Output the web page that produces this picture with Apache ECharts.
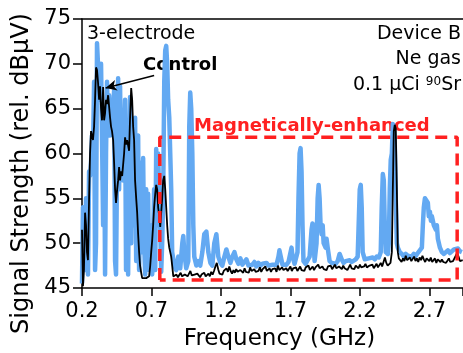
<!DOCTYPE html>
<html>
<head>
<meta charset="utf-8">
<script src="https://cdn.jsdelivr.net/npm/echarts@6/dist/echarts.min.js"></script>
<style>
  html, body { margin: 0; padding: 0; background: #fff; }
  #chart { width: 463px; height: 353px; }
</style>
</head>
<body>
<div id="chart"></div>
<script>
// 磁增强 vs 对照：3 电极器件 B 的信号强度频谱 (Ne 气, 0.1 μCi 90Sr)
// 蓝色 = 磁增强, 黑色 = 对照

// ---------- 数据 ----------
const magFreq = [
  0.200, 0.207, 0.214, 0.222, 0.229, 0.236, 0.243, 0.251, 0.258, 0.265,
  0.272, 0.279, 0.287, 0.294, 0.301, 0.308, 0.315, 0.323, 0.330, 0.337,
  0.344, 0.352, 0.359, 0.366, 0.373, 0.380, 0.388, 0.395, 0.402, 0.409,
  0.416, 0.424, 0.431, 0.438, 0.445, 0.453, 0.460, 0.467, 0.474, 0.481,
  0.489, 0.496, 0.503, 0.510, 0.517, 0.525, 0.532, 0.539, 0.546, 0.554,
  0.561, 0.568, 0.575, 0.582, 0.590, 0.597, 0.604, 0.611, 0.618, 0.626,
  0.633, 0.640, 0.647, 0.655, 0.662, 0.669, 0.676, 0.683, 0.691, 0.698,
  0.705, 0.712, 0.719, 0.727, 0.734, 0.741, 0.748, 0.756, 0.763, 0.770,
  0.777, 0.784, 0.792, 0.799, 0.806, 0.813, 0.820, 0.828, 0.835, 0.842,
  0.849, 0.864, 0.878, 0.893, 0.907, 0.922, 0.929, 0.936, 0.950, 0.965,
  0.972, 0.979, 0.986, 0.994, 1.001, 1.008, 1.023, 1.037, 1.051, 1.066,
  1.080, 1.095, 1.109, 1.124, 1.138, 1.152, 1.167, 1.181, 1.196, 1.210,
  1.225, 1.239, 1.253, 1.268, 1.282, 1.297, 1.311, 1.326, 1.340, 1.354,
  1.369, 1.383, 1.398, 1.412, 1.427, 1.441, 1.455, 1.470, 1.484, 1.499,
  1.513, 1.528, 1.542, 1.556, 1.571, 1.585, 1.600, 1.614, 1.621, 1.629,
  1.643, 1.657, 1.672, 1.686, 1.701, 1.708, 1.715, 1.730, 1.744, 1.751,
  1.758, 1.766, 1.773, 1.780, 1.787, 1.794, 1.809, 1.823, 1.838, 1.852,
  1.859, 1.867, 1.874, 1.888, 1.896, 1.903, 1.910, 1.917, 1.924, 1.932,
  1.939, 1.953, 1.960, 1.968, 1.982, 1.997, 2.011, 2.025, 2.040, 2.054,
  2.062, 2.069, 2.083, 2.098, 2.112, 2.126, 2.141, 2.155, 2.170, 2.184,
  2.191, 2.199, 2.206, 2.213, 2.220, 2.235, 2.249, 2.264, 2.278, 2.292,
  2.307, 2.321, 2.336, 2.350, 2.357, 2.365, 2.372, 2.379, 2.386, 2.401,
  2.408, 2.415, 2.422, 2.430, 2.437, 2.444, 2.451, 2.458, 2.466, 2.473,
  2.487, 2.502, 2.516, 2.530, 2.545, 2.559, 2.574, 2.588, 2.603, 2.617,
  2.631, 2.646, 2.653, 2.660, 2.668, 2.682, 2.689, 2.696, 2.704, 2.711,
  2.718, 2.732, 2.747, 2.754, 2.761, 2.776, 2.790, 2.805, 2.819, 2.833,
  2.848, 2.862, 2.877, 2.891, 2.906, 2.920, 2.934
];
const magSignal = [
  45.5, 54, 50, 47, 55, 53, 46.5, 58, 57.5, 59,
  62, 60, 68, 47, 50, 72.3, 70, 66, 68, 70,
  62, 52, 64, 46.5, 60, 68, 62, 66.5, 62, 64,
  63, 65, 67, 48, 46.5, 60, 68.4, 56, 67.5, 58,
  60, 57, 62, 66, 47, 55, 46.5, 60, 66.3, 50,
  62, 52, 58, 64, 48, 61, 62, 47, 54, 59,
  49, 59.5, 50, 46.5, 56, 48, 55.5, 47, 52, 51,
  46.5, 50, 56, 47, 60.5, 52, 60, 55, 52, 46.8,
  50, 55, 68, 71.5, 72, 70, 66, 64, 60, 56,
  49, 47.5, 47, 48.5, 47.2, 50, 50.8, 49, 47.2, 48,
  63, 66.8, 65, 60, 52, 48.5, 47.5, 48, 47.5, 49,
  51, 51.3, 49, 47.8, 47.5, 50, 51, 48.5, 47.8, 47.5,
  48.5, 49.3, 48.5, 47.8, 48.5, 49, 48.2, 47.7, 48.3, 47.6,
  47.9, 48.2, 47.5, 47.7, 47.6, 47.9, 47.4, 47.8, 47.5, 47.7,
  47.5, 47.8, 47.5, 47.7, 47.6, 47.8, 47.6, 48.5, 49.2, 48.6,
  47.6, 47.8, 47.6, 47.9, 49, 49.5, 48.5, 47.7, 47.8, 49,
  55, 60, 60.6, 58, 52, 48, 47.7, 47.9, 48.5, 51.5,
  52.2, 50, 48, 50, 55, 56.5, 55, 52, 51, 52,
  50, 49.5, 50.5, 49.5, 48, 47.8, 47.9, 47.7, 48, 48.8,
  49, 48.2, 47.8, 48, 47.9, 48.1, 47.9, 48, 48.2, 48.5,
  52, 56, 56.5, 54, 49, 48.2, 48, 48.3, 48.2, 48.4,
  48.2, 48.5, 48.4, 49, 54, 57.7, 57, 52, 49, 48.8,
  50, 56, 59.3, 60, 63.3, 63, 61, 55, 50, 49.5,
  49, 48.8, 48.5, 48.8, 48.6, 48.7, 48.5, 48.8, 48.6, 48.9,
  49, 49.5, 52, 54, 55, 55.2, 54.5, 53, 53.5, 52.5,
  53, 52, 51.5, 52, 50.5, 49.5, 49, 48.8, 49, 49.2,
  48.9, 49.1, 49.3, 49.2, 49.4, 49.1, 49
];

const ctrlFreq = [
  0.200, 0.207, 0.214, 0.222, 0.229, 0.236, 0.243, 0.251, 0.258, 0.265,
  0.272, 0.279, 0.287, 0.294, 0.301, 0.308, 0.315, 0.323, 0.330, 0.337,
  0.344, 0.352, 0.359, 0.366, 0.373, 0.380, 0.388, 0.395, 0.402, 0.409,
  0.416, 0.424, 0.431, 0.438, 0.445, 0.453, 0.460, 0.467, 0.474, 0.481,
  0.489, 0.496, 0.503, 0.510, 0.517, 0.525, 0.532, 0.539, 0.546, 0.554,
  0.561, 0.568, 0.575, 0.582, 0.590, 0.597, 0.604, 0.611, 0.618, 0.626,
  0.633, 0.647, 0.662, 0.676, 0.683, 0.691, 0.698, 0.705, 0.712, 0.719,
  0.727, 0.734, 0.741, 0.748, 0.756, 0.763, 0.770, 0.777, 0.784, 0.792,
  0.799, 0.806, 0.813, 0.820, 0.828, 0.835, 0.842, 0.849, 0.857,
  0.87, 0.88, 0.89, 0.90, 0.91, 0.92, 0.93, 0.94, 0.95, 0.96,
  0.97, 0.98, 0.99, 1.00, 1.01, 1.02, 1.03, 1.04, 1.05, 1.06,
  1.07, 1.08, 1.09, 1.10, 1.11, 1.12, 1.13, 1.14, 1.15, 1.16,
  1.17, 1.18, 1.19, 1.20, 1.21, 1.22, 1.23, 1.24, 1.25, 1.26,
  1.27, 1.28, 1.29, 1.30, 1.31, 1.32, 1.33, 1.34, 1.35, 1.36,
  1.37, 1.38, 1.39, 1.40, 1.41, 1.42, 1.43, 1.44, 1.45, 1.46,
  1.47, 1.48, 1.49, 1.50, 1.51, 1.52, 1.53, 1.54, 1.55, 1.56,
  1.57, 1.58, 1.59, 1.60, 1.61, 1.62, 1.63, 1.64, 1.65, 1.66,
  1.67, 1.68, 1.69, 1.70, 1.71, 1.72, 1.73, 1.74, 1.75, 1.76,
  1.77, 1.78, 1.79, 1.80, 1.81, 1.82, 1.83, 1.84, 1.85, 1.86,
  1.87, 1.88, 1.89, 1.90, 1.91, 1.92, 1.93, 1.94, 1.95, 1.96,
  1.97, 1.98, 1.99, 2.00, 2.01, 2.02, 2.03, 2.04, 2.05, 2.06,
  2.07, 2.08, 2.09, 2.10, 2.11, 2.12, 2.13, 2.14, 2.15, 2.16,
  2.17, 2.18, 2.19, 2.20, 2.21, 2.22, 2.23, 2.24, 2.25, 2.26,
  2.27, 2.28, 2.29, 2.30, 2.31, 2.32, 2.33, 2.34, 2.35, 2.36,
  2.37, 2.38, 2.39, 2.40, 2.41,
  2.420, 2.430, 2.437, 2.444, 2.451, 2.458, 2.466, 2.473, 2.480,
  2.49, 2.50, 2.51, 2.52, 2.53, 2.54, 2.55, 2.56, 2.57, 2.58,
  2.59, 2.60, 2.61, 2.62, 2.63, 2.64, 2.65, 2.66, 2.67, 2.68,
  2.69, 2.70, 2.71, 2.72, 2.73, 2.74, 2.75, 2.76, 2.77, 2.78,
  2.79, 2.80, 2.81, 2.82, 2.83, 2.84, 2.85, 2.86, 2.87, 2.88,
  2.89, 2.90, 2.91, 2.92, 2.93, 2.94
];
const ctrlSignal = [
  51.5, 45.2, 47, 53.4, 52, 49, 48.1, 55, 60, 62.5,
  62, 61.5, 63, 66, 69.6, 69.3, 68, 66, 67.5, 65,
  63.7, 67.4, 63.7, 64.5, 66, 65.5, 66.5, 66.3, 64, 63,
  62.5, 61.5, 59, 56, 54.5, 56, 57, 58.5, 57, 58,
  57.5, 57.4, 60, 61.8, 61, 61.5, 61.6, 60.3, 64, 67.3,
  66, 63, 61.5, 57, 55, 53.4, 51, 49, 47.5, 46.7,
  46.1, 46, 46.1, 46, 46.3, 47.5, 49, 50.3, 52, 54,
  55.5, 56.5, 56, 54, 53, 51.8, 52, 55, 57, 57.5,
  56, 54, 52, 50.5, 49.5, 49, 48.5, 47.5, 46.3,
  46.3, 46.5, 46.2, 46.4, 46.7, 46.3, 46.2, 46.5, 46.4, 46.3,
  46.6, 46.9, 46.4, 46.2, 46.5, 46.3, 46.6, 46.4, 46.2, 46.5,
  46.4, 46.7, 46.3, 46.5, 46.6, 46.3, 46.8, 46.5, 46.9, 47.4,
  47.8, 47.1, 46.6, 46.8, 46.5, 46.9, 46.7, 47.2, 46.8, 47.4,
  46.9, 46.6, 47.0, 46.7, 47.1, 46.8, 46.6, 47.0, 46.9, 46.7,
  47.2, 46.8, 47.0, 46.7, 47.3, 46.9, 46.8, 47.1, 46.8, 47.0,
  46.9, 47.3, 46.8, 47.1, 46.9, 47.4, 46.9, 47.0, 47.2, 46.8,
  47.1, 46.9, 47.2, 46.8, 47.5, 47.0, 46.9, 47.3, 47.0, 46.9,
  47.2, 46.9, 47.1, 47.4, 46.9, 47.2, 47.0, 47.3, 46.9, 47.1,
  47.4, 47.0, 47.2, 46.9, 47.3, 47.1, 47.5, 47.0, 47.2, 47.4,
  47.0, 47.3, 47.1, 47.6, 47.2, 47.0, 47.4, 47.1, 47.3, 47.0,
  47.4, 47.2, 47.5, 47.1, 47.3, 47.6, 47.2, 47.0, 47.4, 47.3,
  47.1, 47.5, 47.2, 47.4, 47.0, 47.3, 47.6, 47.2, 47.4, 47.1,
  47.5, 47.3, 47.2, 47.6, 47.3, 47.1, 47.4, 47.7, 47.3, 47.2,
  47.5, 47.3, 47.6, 47.2, 47.4, 47.7, 47.3, 47.5, 47.8, 47.4,
  47.6, 48.4, 47.8, 47.5, 47.7,
  47.8, 49, 56, 62.5, 63.2, 62.8, 56, 49, 48.3,
  48.5, 47.9, 48.3, 48.0, 48.6, 48.1, 47.9, 48.4, 48.0, 48.2,
  48.5, 48.0, 48.3, 47.9, 48.4, 48.1, 48.6, 48.2, 47.9, 48.3,
  48.2, 48.0, 48.4, 47.9, 48.1, 48.3, 47.8, 48.2, 48.0, 47.9,
  48.2, 47.9, 48.1, 47.8, 48.0, 48.3, 47.9, 48.1, 48.0, 47.8,
  48.6, 48.9, 48.5, 48.0, 48.2, 48.1
];

// 虚线框（磁增强区域）与 "Control" 指示箭头
const boxFreq = [0.76, 2.90];
const boxLevel = [45.9, 61.8];
const arrowFrom = [0.719, 68.7];
const arrowTo = [0.37, 67.3];

// 轴范围（GHz / dBμV）
const freqRange = [0.2, 2.942];
const levelRange = [45, 75];

// ---------- 绘制 ----------
const FONT = 'DejaVu Sans';
const X0 = freqRange[0]; // 横轴从 0.2 GHz 起刻度，数据平移后让刻度落在 0.2, 0.7, ...
const shift = (f, v) => [+(f - X0).toFixed(4), v];

const chart = echarts.init(document.getElementById('chart'), null, { renderer: 'canvas' });

const boxData = [
  shift(boxFreq[0], boxLevel[0]), shift(boxFreq[0], boxLevel[1]),
  shift(boxFreq[1], boxLevel[1]), shift(boxFreq[1], boxLevel[0]),
  shift(boxFreq[0], boxLevel[0]),
];

chart.setOption({
  animation: false,
  backgroundColor: '#fff',
  grid: { left: 82, right: 0, top: 19, bottom: 65, containLabel: false, outerBoundsMode: 'none' },
  xAxis: [{
    type: 'value', min: 0, max: +(freqRange[1] - X0).toFixed(3), interval: 0.5,
    name: 'Frequency (GHz)', nameLocation: 'middle', nameGap: 40,
    nameTextStyle: { color: '#000', fontSize: 23, fontFamily: FONT, padding: [0, 0, 0, 14] },
    axisLine: { lineStyle: { color: '#000', width: 1.5 } },
    axisTick: { length: 8, lineStyle: { color: '#000', width: 1.5 } },
    axisLabel: {
      color: '#000', fontSize: 21, fontFamily: FONT, margin: 13,
      formatter: v => Math.abs(v / 0.5 - Math.round(v / 0.5)) < 1e-6 ? (v + X0).toFixed(1) : '',
    },
    splitLine: { show: false },
  }, {
    type: 'value', position: 'top', min: 0, max: +(freqRange[1] - X0).toFixed(3),
    axisLine: { lineStyle: { color: '#000', width: 1.5 } },
    axisTick: { show: false }, axisLabel: { show: false }, splitLine: { show: false },
  }],
  yAxis: {
    type: 'value', min: levelRange[0], max: levelRange[1], interval: 5,
    name: 'Signal Strength (rel. dBμV)', nameLocation: 'middle', nameGap: 47,
    nameTextStyle: { color: '#000', fontSize: 24, fontFamily: FONT, padding: [0, 40, 0, 0] },
    axisLine: { lineStyle: { color: '#000', width: 1.5 } },
    axisTick: { length: 9, lineStyle: { color: '#000', width: 1.5 } },
    axisLabel: { color: '#000', fontSize: 21, fontFamily: FONT, margin: 11 },
    splitLine: { show: false },
  },
  series: [{
    name: 'Magnetically-enhanced', type: 'line', silent: true,
    data: magFreq.map((f, i) => shift(f, magSignal[i])),
    symbol: 'none', lineStyle: { color: '#63a9f2', width: 4.5, join: 'round' }, z: 2,
  }, {
    name: 'Control', type: 'line', silent: true,
    data: ctrlFreq.map((f, i) => shift(f, ctrlSignal[i])),
    symbol: 'none', lineStyle: { color: '#000', width: 1.8 }, z: 3,
    markLine: {
      silent: true, symbol: ['none', 'arrow'], symbolSize: [8, 11],
      label: { show: false },
      lineStyle: { color: '#000', width: 1.5, type: 'solid' },
      data: [[{ coord: shift(...arrowFrom) }, { coord: shift(...arrowTo) }]],
    },
  }, {
    name: 'box', type: 'line', silent: true, data: boxData,
    symbol: 'none', lineStyle: { color: '#ff2020', width: 3.5, type: [12, 7] }, z: 4,
  }],
  graphic: [
    { type: 'text', x: 87, y: 25, style: { text: '3-electrode', fill: '#000', fontSize: 19, fontFamily: FONT } },
    { type: 'text', x: 461, y: 25, style: { text: 'Device B', fill: '#000', fontSize: 19, fontFamily: FONT, align: 'right' } },
    { type: 'text', x: 461, y: 50, style: { text: 'Ne gas', fill: '#000', fontSize: 19, fontFamily: FONT, align: 'right' } },
    {
      type: 'text', x: 461, y: 76,
      style: {
        text: '{n|0.1 μCi }{s|90}{n|Sr}', align: 'right',
        rich: {
          n: { fill: '#000', fontSize: 19, fontFamily: FONT },
          s: { fill: '#000', fontSize: 12, fontFamily: FONT, verticalAlign: 'top' },
        },
      },
    },
    { type: 'text', x: 143, y: 56, style: { text: 'Control', fill: '#000', fontSize: 18, fontWeight: 'bold', fontFamily: FONT } },
    { type: 'text', x: 194, y: 117, style: { text: 'Magnetically-enhanced', fill: '#ff2020', fontSize: 18, fontWeight: 'bold', fontFamily: FONT } },
  ],
});
</script>
</body>
</html>
